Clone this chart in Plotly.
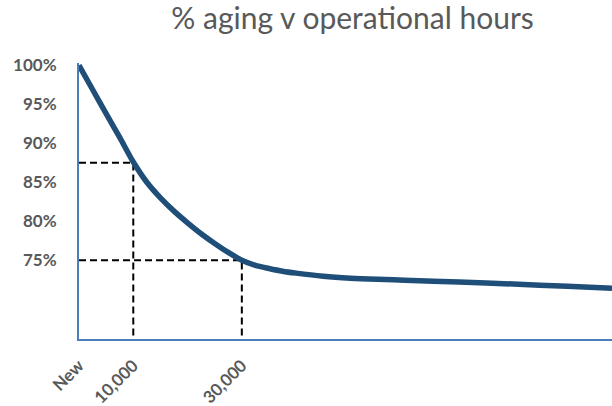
import plotly.graph_objects as go

# Data
hours = [0, 2500, 5000, 7500, 10000, 12500, 15000, 17500, 20000, 22500, 25000, 27500,
         30000, 32500, 35000, 37500, 40000, 45000, 50000, 55000, 60000, 70000, 80000,
         90000, 98200]
aging = [100.0, 96.9, 93.8, 90.75, 87.6, 85.0, 83.0, 81.3, 79.8, 78.4, 77.15, 76.0,
         75.0, 74.35, 73.95, 73.6, 73.35, 72.95, 72.7, 72.55, 72.45, 72.2, 71.95,
         71.65, 71.4]

ref_x = [10000, 30000]
ref_y = [87.5, 75.0]

x_tickvals = [0, 10000, 30000]
x_ticktext = ["New", "10,000", "30,000"]
y_tickvals = [75, 80, 85, 90, 95, 100]
y_ticktext = ["75%", "80%", "85%", "90%", "95%", "100%"]

y_min, y_max = 64.9, 100.3
x_max = 98200

fig = go.Figure()

# dashed reference lines
for rx, ry in zip(ref_x, ref_y):
    fig.add_trace(go.Scatter(x=[0, rx, rx], y=[ry, ry, y_min], mode="lines",
                             line=dict(color="black", width=2, dash="7px,4px"),
                             hoverinfo="skip", showlegend=False))

fig.add_trace(go.Scatter(x=hours, y=aging, mode="lines",
                         line=dict(color="#1F4E79", width=5.5, shape="spline", smoothing=0.8),
                         showlegend=False))

W, H = 612, 406
fig.update_layout(
    width=W, height=H,
    margin=dict(l=79, r=0, t=63, b=67, autoexpand=False),
    plot_bgcolor="white", paper_bgcolor="white",
    font=dict(family="Lato, Open Sans, sans-serif", color="#595959"),
    title=dict(text="% aging v operational hours", x=352.5/W, xanchor="center",
               xref="container", y=1-18/H, yanchor="middle", yref="container",
               font=dict(size=30, color="#595959", family="Lato, Open Sans, sans-serif")),
)

fig.update_xaxes(range=[0, x_max], tickvals=x_tickvals, ticktext=x_ticktext,
                 tickangle=-45, showgrid=False, zeroline=False, automargin=False,
                 showline=True, linecolor="#4A7EBB", linewidth=2,
                 tickfont=dict(size=17, color="#595959", family="Lato, sans-serif", weight="bold"),
                 ticks="", ticklabelstandoff=8)
fig.update_yaxes(range=[y_min, y_max], tickvals=y_tickvals, ticktext=y_ticktext,
                 showgrid=False, zeroline=False, automargin=False,
                 showline=True, linecolor="#4A7EBB", linewidth=2,
                 tickfont=dict(size=17, color="#595959", family="Lato, sans-serif", weight="bold"),
                 ticks="", ticklabelstandoff=17)

# remove the default 8px page margin so the figure sits at the window's corner
fig.write_html("out.html", config={"displayModeBar": False},
               post_script="document.body.style.margin='0px';")
